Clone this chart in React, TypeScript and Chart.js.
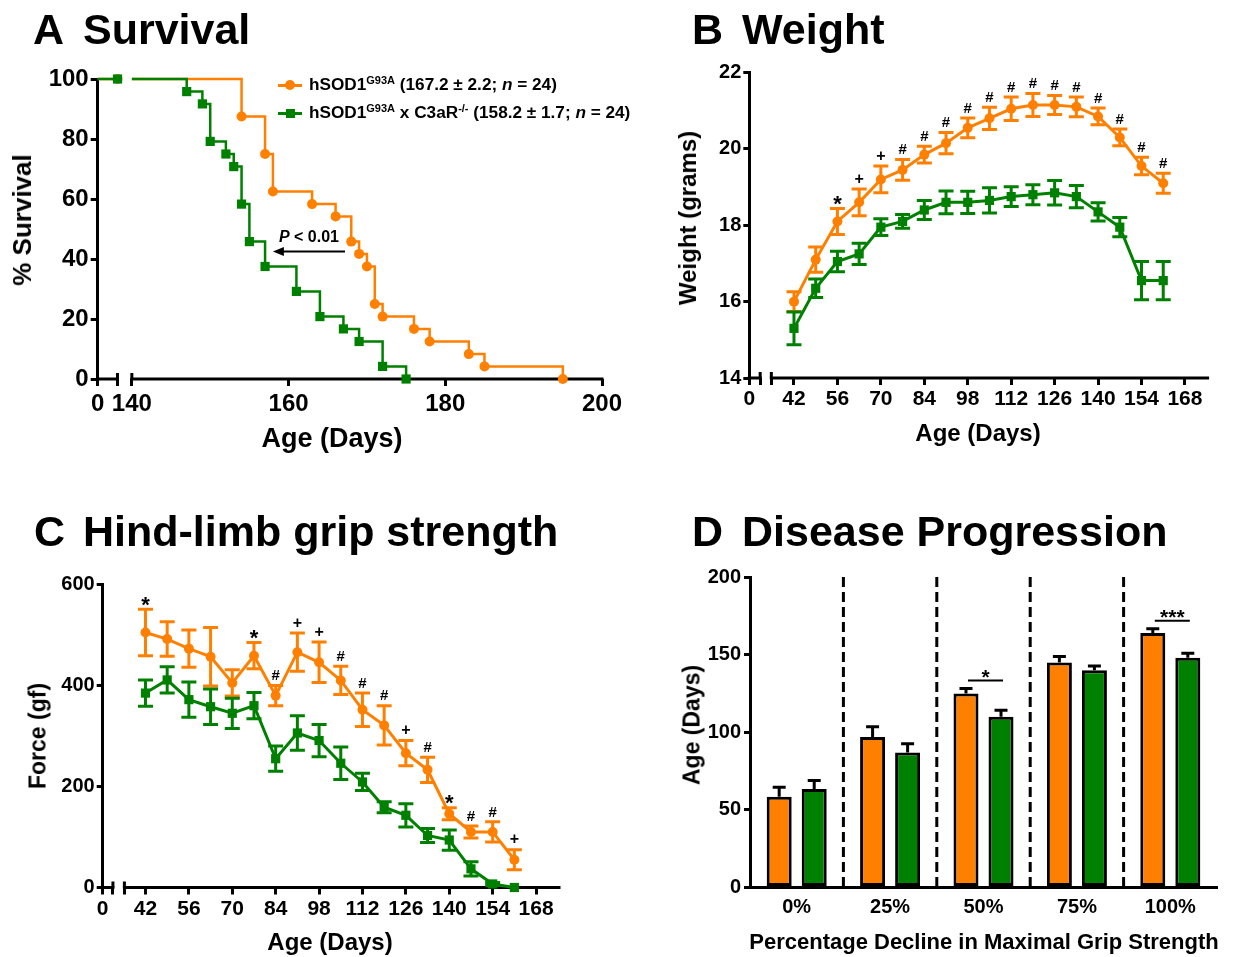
import React, { useEffect, useRef } from 'react';
import { Chart, registerables } from 'chart.js';

Chart.register(...registerables);

const W = 1234;
const H = 957;
const FONT = "'Liberation Sans', Arial, Helvetica, sans-serif";
const ORANGE = 'rgb(255,128,0)';
const GREEN = 'rgb(0,128,0)';
const BLACK = '#000';

// ---------- Panel A: Kaplan-Meier survival ----------
const SURV_WT_DAYS = [154, 157, 158, 163, 166, 168, 169, 170, 171, 172, 176, 178, 183, 185, 195];
const SURV_WT_PCT = [87.5, 75, 62.5, 58.3, 54.2, 45.8, 41.7, 37.5, 25, 20.8, 16.7, 12.5, 8.3, 4.2, 0];
const SURV_KO_DAYS = [147, 149, 150, 152, 153, 154, 155, 157, 161, 164, 167, 169, 172, 175];
const SURV_KO_PCT = [95.8, 91.7, 79.2, 75, 70.8, 58.3, 45.8, 37.5, 29.2, 20.8, 16.7, 12.5, 4.2, 0];
const SURV_X_TICKS = [140, 160, 180, 200];
const SURV_Y_TICKS = [0, 20, 40, 60, 80, 100];
const SURV_P_TEXT = ['P', ' < 0.01'];
const SURV_ARROW = { from: 167.2, to: 158, level: 42.5, textDay: 162.6, textLevel: 47.5 };
const LEGEND_WT = { name: 'hSOD1', sup: 'G93A', rest: ' (167.2 ± 2.2; ', n: 'n', tail: ' = 24)' };
const LEGEND_KO = { name: 'hSOD1', sup: 'G93A', mid: ' x C3aR', sup2: '-/-', rest: ' (158.2 ± 1.7; ', n: 'n', tail: ' = 24)' };

// ---------- Panel B: weight ----------
const WEEK_DAYS = [42, 49, 56, 63, 70, 77, 84, 91, 98, 105, 112, 119, 126, 133, 140, 147, 154, 161];
const WEIGHT_WT = [16.0, 17.1, 18.1, 18.6, 19.2, 19.45, 19.85, 20.15, 20.55, 20.8, 21.05, 21.15, 21.15, 21.1, 20.85, 20.3, 19.55, 19.1];
const WEIGHT_WT_SEM = [0.26, 0.33, 0.34, 0.35, 0.35, 0.27, 0.22, 0.28, 0.26, 0.29, 0.31, 0.3, 0.25, 0.26, 0.22, 0.22, 0.23, 0.26];
const WEIGHT_KO = [15.3, 16.35, 17.05, 17.25, 17.95, 18.1, 18.4, 18.6, 18.6, 18.65, 18.75, 18.8, 18.85, 18.75, 18.35, 17.95, 16.55, 16.55];
const WEIGHT_KO_SEM = [0.43, 0.24, 0.27, 0.28, 0.22, 0.18, 0.25, 0.3, 0.29, 0.33, 0.26, 0.26, 0.32, 0.29, 0.24, 0.25, 0.5, 0.5];
const WEIGHT_SIG = ['', '', '*', '+', '+', '#', '#', '#', '#', '#', '#', '#', '#', '#', '#', '#', '#', '#'];
const AGE_X_TICKS = [42, 56, 70, 84, 98, 112, 126, 140, 154, 168];

// ---------- Panel C: grip strength ----------
const GRIP_WT = [505, 492, 473, 457, 405, 459, 380, 466, 446, 410, 352, 321, 266, 233, 146, 110, 110, 55];
const GRIP_WT_SEM = [46, 34, 37, 58, 26, 26, 20, 38, 40, 28, 33, 39, 25, 25, 12, 12, 20, 20];
const GRIP_KO = [385, 411, 372, 358, 345, 360, 255, 306, 291, 246, 209, 159, 143, 103, 94, 37, 7, 0];
const GRIP_KO_SEM = [26, 26, 35, 35, 30, 26, 25, 34, 32, 32, 17, 11, 23, 14, 20, 14, 3, 0];
const GRIP_SIG = ['*', '', '', '', '', '*', '#', '+', '+', '#', '#', '#', '+', '#', '*', '#', '#', '+'];

// ---------- Panel D: disease progression ----------
const PROG_CATS = ['0%', '25%', '50%', '75%', '100%'];
const PROG_WT = [58.5, 97, 125, 145, 164];
const PROG_WT_SEM = [6, 6.5, 3.2, 3.8, 2.6];
const PROG_KO = [63.5, 87, 110, 140, 148];
const PROG_KO_SEM = [5.4, 5.6, 4.2, 2.6, 2.9];
const PROG_SIG = ['', '', '*', '', '***'];

// ---------- layout (page pixels) ----------
type Area = { left: number; top: number; right: number; bottom: number };
const A_AREA: Area = { left: 97.7, top: 79, right: 602, bottom: 379 };
const B_AREA: Area = { left: 749.3, top: 72.5, right: 1207.6, bottom: 378 };
const C_AREA: Area = { left: 102.7, top: 584.5, right: 559, bottom: 887.5 };
const D_AREA: Area = { left: 750, top: 577, right: 1217, bottom: 887.5 };
// broken x axes (axis units): position of "0", end of first piece, start of second piece, max
const A_AXIS = { zero: 135.64, seg1End: 138.17, seg2Start: 140, max: 200 };
const B_AXIS = { zero: 27.6, seg1End: 31.1, seg2Start: 34.7, max: 175.3 };
const C_AXIS = { zero: 28.2, seg1End: 31.5, seg2Start: 35.2, max: 175.4 };

const Y_W = 70;
const X_H = 50;
const layoutFor = (a: Area) => ({
  autoPadding: false,
  padding: { left: a.left - Y_W, top: a.top, right: W - a.right, bottom: H - a.bottom - X_H },
});
const fitY = (s: any) => { s.width = Y_W; };
const fitX = (s: any) => { s.height = X_H; };
const tickFont = (size: number) => ({ family: FONT, size, weight: 'bold' as const });

function yAxis(min: number, max: number, step: number, size: number, tickLen = 7, pad = 3) {
  return {
    type: 'linear' as const,
    min,
    max,
    afterFit: fitY,
    ticks: { stepSize: step, font: tickFont(size), color: BLACK, padding: pad },
    grid: { drawOnChartArea: false, drawTicks: true, tickLength: tickLen, color: BLACK, lineWidth: 3 },
    border: { display: true, color: BLACK, width: 3 },
  };
}

function brokenX(ax: any, ticks: number[], labels: string[], size: number, pad = 3) {
  return {
    type: 'linear' as const,
    min: ax.zero,
    max: ax.max,
    bounds: 'data' as const,
    afterFit: fitX,
    afterBuildTicks: (s: any) => { s.ticks = ticks.map((v) => ({ value: v })); },
    ticks: { autoSkip: false, maxRotation: 0, font: tickFont(size), color: BLACK, padding: pad, callback: (_v: any, i: number) => labels[i] },
    grid: { drawOnChartArea: false, drawTicks: true, tickLength: 7, color: BLACK, lineWidth: 3 },
    border: { display: false },
  };
}

function makeBrokenAxis(segments: number[][], caps: number[]) {
  return {
    id: 'brokenAxis',
    beforeDatasetsDraw(chart: any) {
      const { ctx, chartArea } = chart;
      const xs = chart.scales.x;
      const y = chartArea.bottom;
      ctx.save();
      ctx.strokeStyle = BLACK;
      ctx.lineWidth = 3;
      segments.forEach(([a, b]) => {
        ctx.beginPath();
        ctx.moveTo(xs.getPixelForValue(a) - 1.5, y);
        ctx.lineTo(xs.getPixelForValue(b) + 1.5, y);
        ctx.stroke();
      });
      caps.forEach((v) => {
        const x = xs.getPixelForValue(v);
        ctx.beginPath();
        ctx.moveTo(x, y - 6);
        ctx.lineTo(x, y);
        ctx.stroke();
      });
      ctx.restore();
    },
  };
}

function drawErrors(chart: any, onTop: boolean) {
  const { ctx } = chart;
  chart.data.datasets.forEach((ds: any, di: number) => {
    const eb = ds.errorBars;
    if (!eb || !!eb.onTop !== onTop) return;
    const meta = chart.getDatasetMeta(di);
    const ys = chart.scales[meta.yAxisID];
    ctx.save();
    ctx.strokeStyle = eb.color;
    ctx.lineWidth = eb.width;
    meta.data.forEach((el: any, i: number) => {
      const m = eb.means[i];
      const e = eb.errs[i];
      if (!e) return;
      const x = el.x;
      const yTop = ys.getPixelForValue(m + e);
      const yBot = eb.upOnly ? ys.getPixelForValue(m) : ys.getPixelForValue(m - e);
      ctx.beginPath();
      ctx.moveTo(x, yTop);
      ctx.lineTo(x, yBot);
      ctx.moveTo(x - eb.cap, yTop);
      ctx.lineTo(x + eb.cap, yTop);
      if (!eb.upOnly) {
        ctx.moveTo(x - eb.cap, yBot);
        ctx.lineTo(x + eb.cap, yBot);
      }
      ctx.stroke();
    });
    ctx.restore();
  });
}

const errorBarPlugin = {
  id: 'errorBars',
  beforeDatasetsDraw(chart: any) { drawErrors(chart, false); },
  afterDatasetsDraw(chart: any) { drawErrors(chart, true); },
};

const SYM_SIZE: Record<string, number> = { '*': 22, '+': 16, '#': 15 };
const SYM_CENTER: Record<string, number> = { '*': 0.58, '+': 0.33, '#': 0.35 };

const sigPlugin = {
  id: 'sigMarks',
  afterDatasetsDraw(chart: any) {
    const { ctx } = chart;
    chart.data.datasets.forEach((ds: any, di: number) => {
      if (!ds.sig) return;
      const meta = chart.getDatasetMeta(di);
      const ys = chart.scales[meta.yAxisID];
      ctx.save();
      ctx.fillStyle = BLACK;
      ctx.textAlign = 'center';
      ctx.textBaseline = 'alphabetic';
      meta.data.forEach((el: any, i: number) => {
        const s = ds.sig[i];
        if (!s) return;
        const size = SYM_SIZE[s];
        const cy = ys.getPixelForValue(ds.errorBars.means[i] + ds.errorBars.errs[i]) - 10.5;
        ctx.font = `bold ${size}px ${FONT}`;
        ctx.fillText(s, el.x, cy + SYM_CENTER[s] * size);
      });
      ctx.restore();
    });
  },
};

const pAnnotPlugin = {
  id: 'pAnnot',
  afterDatasetsDraw(chart: any) {
    const { ctx } = chart;
    const xs = chart.scales.x;
    const ys = chart.scales.y;
    const x1 = xs.getPixelForValue(SURV_ARROW.from);
    const x2 = xs.getPixelForValue(SURV_ARROW.to);
    const y = ys.getPixelForValue(SURV_ARROW.level);
    ctx.save();
    ctx.strokeStyle = BLACK;
    ctx.fillStyle = BLACK;
    ctx.lineWidth = 2;
    ctx.beginPath();
    ctx.moveTo(x1, y);
    ctx.lineTo(x2 + 8, y);
    ctx.stroke();
    ctx.beginPath();
    ctx.moveTo(x2, y);
    ctx.lineTo(x2 + 11, y - 4.5);
    ctx.lineTo(x2 + 11, y + 4.5);
    ctx.closePath();
    ctx.fill();
    const size = 16;
    const fI = `italic bold ${size}px ${FONT}`;
    const fB = `bold ${size}px ${FONT}`;
    ctx.font = fI;
    const w1 = ctx.measureText(SURV_P_TEXT[0]).width;
    ctx.font = fB;
    const w2 = ctx.measureText(SURV_P_TEXT[1]).width;
    const cx = xs.getPixelForValue(SURV_ARROW.textDay);
    const base = ys.getPixelForValue(SURV_ARROW.textLevel) + 0.36 * size;
    const start = cx - (w1 + w2) / 2;
    ctx.textAlign = 'left';
    ctx.textBaseline = 'alphabetic';
    ctx.font = fI;
    ctx.fillText(SURV_P_TEXT[0], start, base);
    ctx.font = fB;
    ctx.fillText(SURV_P_TEXT[1], start + w1, base);
    ctx.restore();
  },
};

const dividerPlugin = {
  id: 'dividers',
  beforeDatasetsDraw(chart: any) {
    const { ctx, chartArea } = chart;
    const xs = chart.scales.x;
    ctx.save();
    ctx.strokeStyle = BLACK;
    ctx.lineWidth = 3;
    ctx.setLineDash([10, 5]);
    for (let i = 0; i < PROG_CATS.length - 1; i++) {
      const x = (xs.getPixelForValue(i) + xs.getPixelForValue(i + 1)) / 2;
      ctx.beginPath();
      ctx.moveTo(x, chartArea.top);
      ctx.lineTo(x, chartArea.bottom);
      ctx.stroke();
    }
    ctx.restore();
  },
};

const bracketPlugin = {
  id: 'brackets',
  afterDatasetsDraw(chart: any) {
    const { ctx } = chart;
    const ys = chart.scales.y;
    const m0 = chart.getDatasetMeta(0);
    const m1 = chart.getDatasetMeta(1);
    ctx.save();
    ctx.strokeStyle = BLACK;
    ctx.fillStyle = BLACK;
    ctx.lineWidth = 2;
    ctx.textAlign = 'center';
    ctx.textBaseline = 'alphabetic';
    PROG_SIG.forEach((s, i) => {
      if (!s) return;
      const top = Math.max(PROG_WT[i] + PROG_WT_SEM[i], PROG_KO[i] + PROG_KO_SEM[i]);
      const y = ys.getPixelForValue(top) - 8;
      const xa = m0.data[i].x + 2;
      const xb = m1.data[i].x + 2;
      ctx.beginPath();
      ctx.moveTo(xa, y);
      ctx.lineTo(xb, y);
      ctx.stroke();
      const size = 21;
      ctx.font = `bold ${size}px ${FONT}`;
      ctx.fillText(s, (xa + xb) / 2, y - 9 + 0.58 * size);
    });
    ctx.restore();
  },
};

function kmPoints(days: number[], pct: number[]) {
  const pts: any[] = [
    { x: A_AXIS.zero, y: 100 },
    { x: A_AXIS.seg1End, y: 100 },
    { x: (A_AXIS.seg1End + A_AXIS.seg2Start) / 2, y: null },
    { x: A_AXIS.seg2Start, y: 100 },
  ];
  days.forEach((d, i) => pts.push({ x: d, y: pct[i] }));
  return pts;
}
const kmRadius = (n: number, r: number) => [0, r, 0, 0, ...new Array(n).fill(r)];

function configA(): any {
  return {
    type: 'line',
    data: {
      datasets: [
        {
          data: kmPoints(SURV_WT_DAYS, SURV_WT_PCT),
          stepped: 'before',
          borderColor: ORANGE,
          backgroundColor: ORANGE,
          borderWidth: 2.5,
          pointStyle: 'circle',
          pointRadius: kmRadius(SURV_WT_DAYS.length, 5),
          pointBorderWidth: 0,
          order: 1,
          clip: false,
        },
        {
          data: kmPoints(SURV_KO_DAYS, SURV_KO_PCT),
          stepped: 'before',
          borderColor: GREEN,
          backgroundColor: GREEN,
          borderWidth: 2.5,
          pointStyle: 'rect',
          pointRadius: kmRadius(SURV_KO_DAYS.length, 6.5),
          pointBorderWidth: 0,
          order: 0,
          clip: false,
        },
      ],
    },
    options: {
      animation: false,
      responsive: false,
      events: [],
      layout: layoutFor(A_AREA),
      plugins: { legend: { display: false }, tooltip: { enabled: false } },
      scales: {
        x: brokenX(A_AXIS, [A_AXIS.zero, A_AXIS.seg1End, ...SURV_X_TICKS], ['0', '', ...SURV_X_TICKS.map(String)], 24, 4),
        y: { ...yAxis(SURV_Y_TICKS[0], SURV_Y_TICKS[SURV_Y_TICKS.length - 1], 20, 24, 7, 2) },
      },
    },
    plugins: [makeBrokenAxis([[A_AXIS.zero, A_AXIS.seg1End], [A_AXIS.seg2Start, A_AXIS.max]], [A_AXIS.seg1End, A_AXIS.seg2Start]), pAnnotPlugin],
  };
}

function seriesLine(means: number[], errs: number[], color: string, style: string, radius: number, order: number, sig?: string[]) {
  return {
    data: WEEK_DAYS.map((d, i) => ({ x: d, y: means[i] })),
    borderColor: color,
    backgroundColor: color,
    borderWidth: 3,
    tension: 0,
    pointStyle: style,
    pointRadius: radius,
    pointBorderWidth: 0,
    order,
    clip: false,
    errorBars: { means, errs, color, width: 3, cap: 7.5, upOnly: false, onTop: false },
    sig,
  };
}

function configLine(area: Area, ax: any, wt: number[], wtSem: number[], ko: number[], koSem: number[], sig: string[], y: any): any {
  return {
    type: 'line',
    data: {
      datasets: [
        seriesLine(wt, wtSem, ORANGE, 'circle', 5, 1, sig),
        seriesLine(ko, koSem, GREEN, 'rect', 6.5, 0),
      ],
    },
    options: {
      animation: false,
      responsive: false,
      events: [],
      layout: layoutFor(area),
      plugins: { legend: { display: false }, tooltip: { enabled: false } },
      scales: {
        x: brokenX(ax, [ax.zero, ax.seg1End, ax.seg2Start, ...AGE_X_TICKS], ['0', '', '', ...AGE_X_TICKS.map(String)], 21, 2),
        y,
      },
    },
    plugins: [makeBrokenAxis([[ax.zero, ax.seg1End], [ax.seg2Start, ax.max]], [ax.seg1End, ax.seg2Start]), errorBarPlugin, sigPlugin],
  };
}

function configD(): any {
  const bar = (data: number[], sem: number[], color: string) => ({
    data,
    backgroundColor: color,
    borderColor: BLACK,
    borderWidth: 3,
    borderSkipped: false,
    categoryPercentage: 0.75,
    barPercentage: 0.714,
    errorBars: { means: data, errs: sem, color: BLACK, width: 3, cap: 6.5, upOnly: true, onTop: true },
  });
  return {
    type: 'bar',
    data: { labels: PROG_CATS, datasets: [bar(PROG_WT, PROG_WT_SEM, ORANGE), bar(PROG_KO, PROG_KO_SEM, GREEN)] },
    options: {
      animation: false,
      responsive: false,
      events: [],
      layout: layoutFor(D_AREA),
      plugins: { legend: { display: false }, tooltip: { enabled: false } },
      scales: {
        x: {
          type: 'category',
          afterFit: fitX,
          ticks: { font: tickFont(20), color: BLACK, padding: 8, maxRotation: 0, autoSkip: false },
          grid: { display: false, drawTicks: false },
          border: { display: true, color: BLACK, width: 3 },
        },
        y: yAxis(0, 200, 50, 20, 6, 3),
      },
    },
    plugins: [dividerPlugin, errorBarPlugin, bracketPlugin],
  };
}

function Label({ x, y, size, rotate = false, children }: any) {
  return (
    <div
      style={{
        position: 'absolute',
        left: x,
        top: y,
        transform: `translate(-50%, -50%)${rotate ? ' rotate(-90deg)' : ''}`,
        fontSize: size,
        fontWeight: 700,
        lineHeight: 1,
        whiteSpace: 'nowrap',
        color: BLACK,
      }}
    >
      {children}
    </div>
  );
}

function Heading({ x, baseline, children }: any) {
  const size = 43;
  return (
    <div
      style={{
        position: 'absolute',
        left: x,
        top: baseline - 0.8465 * size,
        fontSize: size,
        lineHeight: `${size}px`,
        fontWeight: 700,
        whiteSpace: 'nowrap',
        color: BLACK,
      }}
    >
      {children}
    </div>
  );
}

const supStyle: React.CSSProperties = { fontSize: '0.64em', verticalAlign: '0.55em', lineHeight: 0 };
const legendText: React.CSSProperties = {
  position: 'absolute',
  left: 309,
  transform: 'translateY(-50%)',
  fontSize: 17.2,
  fontWeight: 700,
  lineHeight: 1,
  whiteSpace: 'nowrap',
};

export default function App() {
  const refA = useRef<HTMLCanvasElement>(null);
  const refB = useRef<HTMLCanvasElement>(null);
  const refC = useRef<HTMLCanvasElement>(null);
  const refD = useRef<HTMLCanvasElement>(null);

  useEffect(() => {
    Chart.defaults.font.family = FONT;
    Chart.defaults.color = BLACK;
    const charts = [
      new Chart(refA.current as HTMLCanvasElement, configA()),
      new Chart(
        refB.current as HTMLCanvasElement,
        configLine(B_AREA, B_AXIS, WEIGHT_WT, WEIGHT_WT_SEM, WEIGHT_KO, WEIGHT_KO_SEM, WEIGHT_SIG, yAxis(14, 22, 2, 20, 6, 2)),
      ),
      new Chart(
        refC.current as HTMLCanvasElement,
        configLine(C_AREA, C_AXIS, GRIP_WT, GRIP_WT_SEM, GRIP_KO, GRIP_KO_SEM, GRIP_SIG, yAxis(0, 600, 200, 20, 6, 2)),
      ),
      new Chart(refD.current as HTMLCanvasElement, configD()),
    ];
    return () => charts.forEach((c) => c.destroy());
  }, []);

  const cv: React.CSSProperties = { position: 'absolute', left: 0, top: 0, width: W, height: H };

  return (
    <div style={{ position: 'absolute', left: 0, top: 0, width: W, height: H, background: '#fff', overflow: 'hidden', fontFamily: FONT, color: BLACK }}>
      <canvas ref={refA} width={W} height={H} style={cv} />
      <canvas ref={refB} width={W} height={H} style={cv} />
      <canvas ref={refC} width={W} height={H} style={cv} />
      <canvas ref={refD} width={W} height={H} style={cv} />

      <Heading x={33} baseline={44}>A</Heading>
      <Heading x={83} baseline={44}>Survival</Heading>
      <Heading x={692} baseline={44}>B</Heading>
      <Heading x={742} baseline={44}>Weight</Heading>
      <Heading x={34} baseline={546}>C</Heading>
      <Heading x={83} baseline={546}>Hind-limb grip strength</Heading>
      <Heading x={692} baseline={546}>D</Heading>
      <Heading x={742} baseline={546}>Disease Progression</Heading>

      <Label x={22} y={220} size={26} rotate>% Survival</Label>
      <Label x={332} y={438} size={27}>Age (Days)</Label>
      <Label x={688} y={218} size={24} rotate>Weight (grams)</Label>
      <Label x={978} y={433} size={24}>Age (Days)</Label>
      <Label x={38} y={736} size={23} rotate>Force (gf)</Label>
      <Label x={330} y={942} size={24}>Age (Days)</Label>
      <Label x={692} y={725} size={23} rotate>Age (Days)</Label>
      <Label x={984} y={942} size={22}>Percentage Decline in Maximal Grip Strength</Label>

      {/* legend of panel A */}
      <div style={{ position: 'absolute', left: 278, top: 83.5, width: 24, height: 3, background: ORANGE }} />
      <div style={{ position: 'absolute', left: 285, top: 80, width: 10, height: 10, borderRadius: '50%', background: ORANGE }} />
      <div style={{ position: 'absolute', left: 278, top: 111.5, width: 24, height: 3, background: GREEN }} />
      <div style={{ position: 'absolute', left: 285.5, top: 108.5, width: 9, height: 9, background: GREEN }} />
      <div style={{ ...legendText, top: 85 }}>
        {LEGEND_WT.name}
        <span style={supStyle}>{LEGEND_WT.sup}</span>
        {LEGEND_WT.rest}
        <i>{LEGEND_WT.n}</i>
        {LEGEND_WT.tail}
      </div>
      <div style={{ ...legendText, top: 113 }}>
        {LEGEND_KO.name}
        <span style={supStyle}>{LEGEND_KO.sup}</span>
        {LEGEND_KO.mid}
        <span style={supStyle}>{LEGEND_KO.sup2}</span>
        {LEGEND_KO.rest}
        <i>{LEGEND_KO.n}</i>
        {LEGEND_KO.tail}
      </div>
    </div>
  );
}
